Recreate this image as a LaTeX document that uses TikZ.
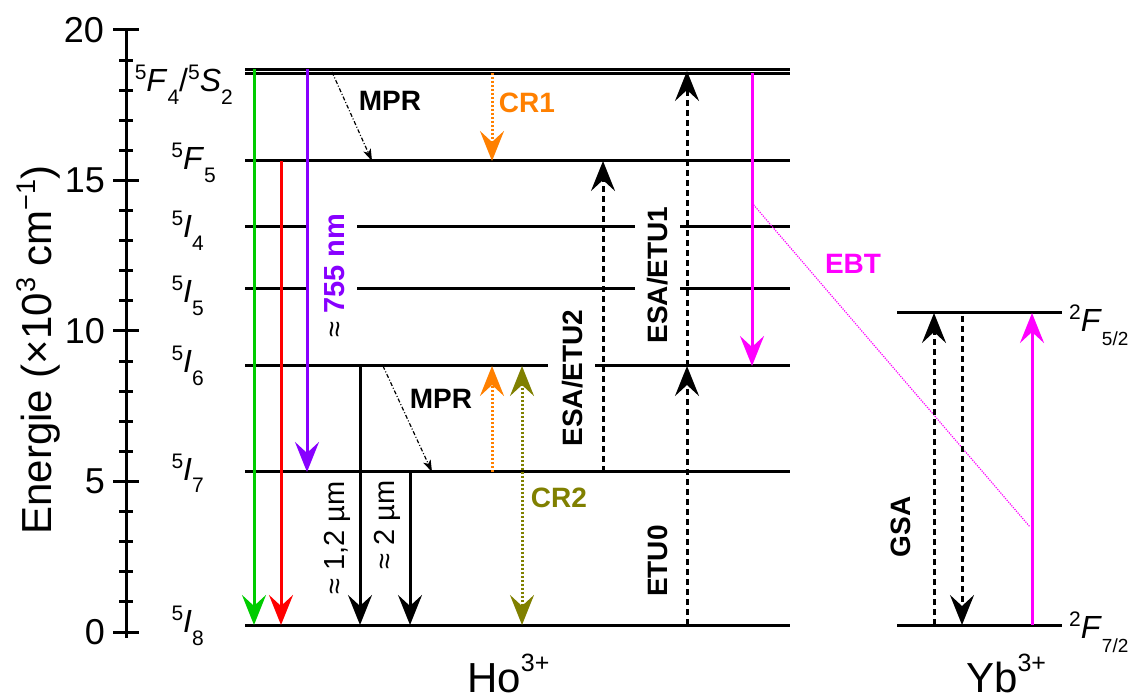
\documentclass[tikz,border=0pt]{standalone}
\usepackage{fontspec}
\setmainfont{Liberation Sans}
\usetikzlibrary{arrows.meta}
\definecolor{cgreen}{RGB}{0,204,0}
\definecolor{cred}{RGB}{255,0,0}
\definecolor{cviolet}{RGB}{136,0,255}
\definecolor{corange}{RGB}{255,128,0}
\definecolor{colive}{RGB}{128,128,0}
\definecolor{cmag}{RGB}{255,0,255}
\newcommand\ssup[1]{\raisebox{12pt}{\fontsize{21}{21}\selectfont #1}}
\newcommand\ssub[1]{\raisebox{-13pt}{\fontsize{21}{21}\selectfont #1}}
\newcommand\ysub[1]{\raisebox{-14pt}{\fontsize{19}{19}\selectfont #1}}
\tikzset{
  lvl/.style={line width=3pt},
  bighead/.tip={Stealth[length=30pt 0,width=24pt 0,inset=11pt 0]},
  tr/.style={line width=3pt,-bighead},
  trboth/.style={line width=3pt,bighead-bighead},
  dashtr/.style={tr,dash pattern=on 6pt off 4pt},
  dottr/.style={dash pattern=on 2pt off 2pt},
  mprarrow/.style={line width=1.2pt,dash pattern=on 4pt off 2pt on 1pt off 2pt,-{Stealth[length=12pt 0,width=8pt 0,inset=3pt 0]}},
  blab/.style={font=\fontsize{28}{30}\selectfont\bfseries,inner sep=0pt},
  rlab/.style={font=\fontsize{29}{30}\selectfont,inner sep=0pt},
  lvlab/.style={font=\fontsize{32}{34}\selectfont,inner sep=0pt},
  ticklab/.style={font=\fontsize{36}{40}\selectfont,inner sep=0pt,anchor=east},
  ionlab/.style={font=\fontsize{42}{46}\selectfont,inner sep=0pt,anchor=base west},
}
\begin{document}
\begin{tikzpicture}[x=1pt,y=-1pt]
\useasboundingbox[fill=white] (0,0) rectangle (1133,700);

% axis
\draw[line width=3pt] (126,30) -- (126,638);
\foreach \v in {0,...,20} {
  \draw[line width=3pt] (119,{632-30.1*\v}) -- (133,{632-30.1*\v});
}
\foreach \v in {0,5,10,15,20} {
  \draw[line width=3pt] (113,{632-30.1*\v}) -- (139,{632-30.1*\v});
}
\node[ticklab] (t0) at (105,632) {0};
\node[ticklab] (t5) at (105,481.5) {5};
\node[ticklab] (t10) at (105,331) {10};
\node[ticklab] (t15) at (105,180.5) {15};
\node[ticklab] (t20) at (104,30) {20};
\node[font=\fontsize{42}{46}\selectfont,inner sep=0pt,rotate=90] (ax) at (38,350)
  {Energie (×10\raisebox{16pt}{\fontsize{27}{27}\selectfont 3} cm\raisebox{16pt}{\fontsize{27}{27}\selectfont −1})};

% Ho levels
\draw[lvl] (245,69.5) -- (790,69.5);
\draw[lvl] (245,73.5) -- (790,73.5);
\draw[lvl] (245,161) -- (790,161);
\draw[lvl] (245,227) -- (308,227) (357,227) -- (635,227) (680,227) -- (790,227);
\draw[lvl] (245,289) -- (308,289) (357,289) -- (635,289) (680,289) -- (790,289);
\draw[lvl] (245,366) -- (548,366) (595,366) -- (790,366);
\draw[lvl] (245,472) -- (790,472);
\draw[lvl] (245,625) -- (790,625);

% Yb levels
\draw[lvl] (897,313) -- (1062,313);
\draw[lvl] (897,625) -- (1062,625);

% level labels
\node[lvlab,anchor=base east] (lF4) at (233,92) {\ssup{5}\textit{F}\ssub{4}/\ssup{5}\textit{S}\ssub{2}};
\node[lvlab,anchor=base east] (lF5) at (216,170) {\ssup{5}\textit{F}\ssub{5}};
\node[lvlab,anchor=base east] (lI4) at (204,238) {\ssup{5}\textit{I}\ssub{4}};
\node[lvlab,anchor=base east] (lI5) at (204,303) {\ssup{5}\textit{I}\ssub{5}};
\node[lvlab,anchor=base east] (lI6) at (204,373) {\ssup{5}\textit{I}\ssub{6}};
\node[lvlab,anchor=base east] (lI7) at (204,480) {\ssup{5}\textit{I}\ssub{7}};
\node[lvlab,anchor=base east] (lI8) at (204,632) {\ssup{5}\textit{I}\ssub{8}};
\node[lvlab,anchor=base west] (lY5) at (1069,332) {\ssup{2}\textit{F}\ysub{5/2}};
\node[lvlab,anchor=base west] (lY7) at (1069,638) {\ssup{2}\textit{F}\ysub{7/2}};

% ion labels
\node[ionlab] (ho) at (467,692) {Ho\raisebox{21pt}{\fontsize{25}{25}\selectfont 3+}};
\node[ionlab] (yb) at (966,692) {Yb\raisebox{21pt}{\fontsize{25}{25}\selectfont 3+}};

% arrow end points
\coordinate (gT) at (254,69);   \coordinate (gB) at (254,625);
\coordinate (rT) at (281,161);  \coordinate (rB) at (281,625);
\coordinate (vT) at (307,69);   \coordinate (vB) at (307,472);
\coordinate (kaT) at (360,366); \coordinate (kaB) at (360,625);
\coordinate (kbT) at (410,472); \coordinate (kbB) at (410,625);
\coordinate (c1T) at (492,73);  \coordinate (c1B) at (492,161);
\coordinate (c2B) at (492,472); \coordinate (c2T) at (492,366);
\coordinate (oT) at (522,366);  \coordinate (oB) at (522,625);
\coordinate (e2B) at (603,472); \coordinate (e2T) at (603,161);
\coordinate (e0B) at (687,625); \coordinate (e0T) at (687,366);
\coordinate (e1T) at (687,71);
\coordinate (mT) at (752,73);   \coordinate (mB) at (752,366);
\coordinate (p1a) at (332,72);  \coordinate (p1b) at (372,161);
\coordinate (p2a) at (383,366); \coordinate (p2b) at (432,472);
\coordinate (ebA) at (752,203); \coordinate (ebB) at (1030,527);
\coordinate (guB) at (934,625); \coordinate (guT) at (934,313);
\coordinate (gdT) at (962,316); \coordinate (gdB) at (962,625);
\coordinate (ymB) at (1032,625); \coordinate (ymT) at (1032,313);

% transitions
\draw[tr,cgreen] (gT) -- (gB);
\draw[tr,cred] (rT) -- (rB);
\draw[tr,cviolet] (vT) -- (vB);
\draw[tr,black] (kaT) -- (kaB);
\draw[tr,black] (kbT) -- (kbB);
\draw[tr,dottr,corange] (c1T) -- (c1B);
\draw[tr,dottr,corange] (c2B) -- (c2T);
\draw[trboth,dottr,colive] (oT) -- (oB);
\draw[dashtr] (e2B) -- (e2T);
\draw[dashtr] (e0B) -- (e0T);
\draw[dashtr] (e0T) -- (e1T);
\draw[tr,cmag] (mT) -- (mB);
\draw[mprarrow] (p1a) -- (p1b);
\draw[mprarrow] (p2a) -- (p2b);
\draw[cmag,line width=1.2pt,dash pattern=on 1.2pt off 1.2pt] (ebA) -- (ebB);
\draw[dashtr] (guB) -- (guT);
\draw[dashtr] (gdT) -- (gdB);
\draw[tr,cmag] (ymB) -- (ymT);

% transition labels
\node[blab] (mpr1) at (390,101) {MPR};
\node[blab,text=corange] (cr1) at (527,103) {CR1};
\node[blab] (mpr2) at (441,399) {MPR};
\node[blab,text=colive] (cr2) at (559,498) {CR2};
\node[blab,text=cmag] (ebt) at (853,264) {EBT};
\node[blab,rotate=90] (esa2) at (573,378) {ESA/ETU2};
\node[blab,rotate=90] (esa1) at (658,275) {ESA/ETU1};
\node[blab,rotate=90] (etu0) at (658,561) {ETU0};
\node[blab,rotate=90] (gsa) at (901,527) {GSA};
\node[rlab,rotate=90,text=cviolet] (nm755) at (335,276) {\textcolor{black}{≈} \textbf{755 nm}};
\node[rlab,rotate=90] (um12) at (337,538) {≈ 1,2 µm};
\node[rlab,rotate=90] (um2) at (387,525) {≈ 2 µm};
\end{tikzpicture}
\end{document}
